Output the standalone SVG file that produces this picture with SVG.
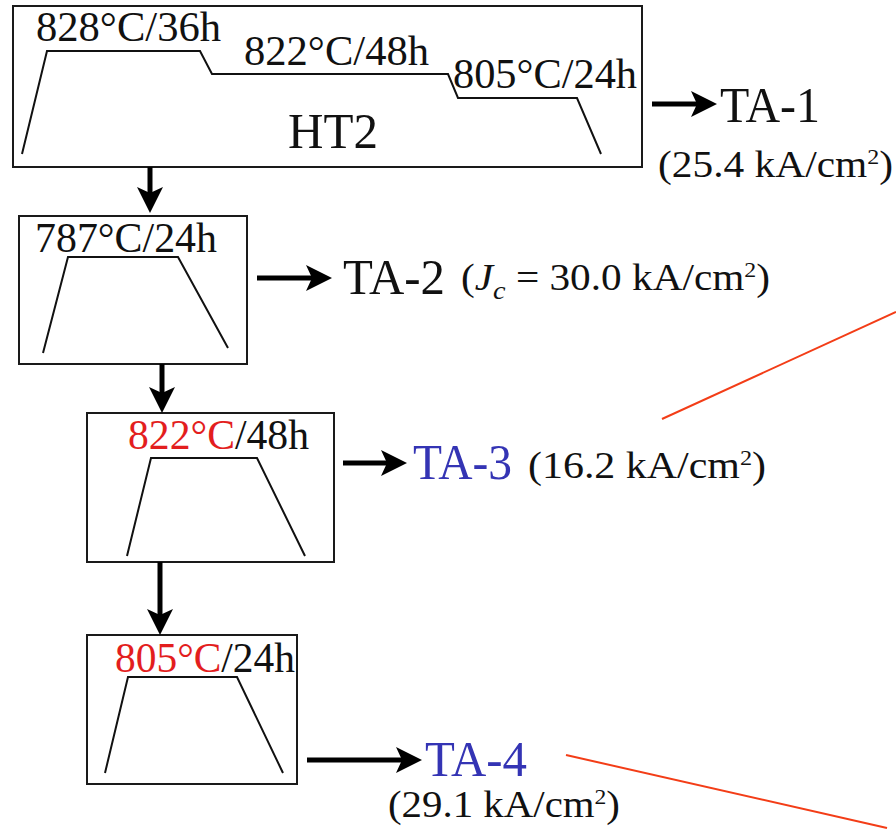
<svg xmlns="http://www.w3.org/2000/svg" width="896" height="829" viewBox="0 0 896 829">
<defs>
<marker id="ah" viewBox="0 0 26 26" refX="6" refY="13" markerWidth="26" markerHeight="26" markerUnits="userSpaceOnUse" orient="auto">
<path d="M0,0 L26,13 L0,26 L6,13 z" fill="#000"/>
</marker>
<style>
.box{fill:#fff;stroke:#1a1a1a;stroke-width:2}
.prof{fill:none;stroke:#111;stroke-width:2}
.t{font-family:"Liberation Serif","Times New Roman",serif;fill:#111}
.arr{stroke:#000;stroke-width:5;fill:none}
.red{fill:#e31e1e}
.blue{fill:#3434b4}
.rl{stroke:#f33d17;stroke-width:2;fill:none}
</style>
</defs>
<rect width="896" height="829" fill="#fff"/>

<g id="ht2">
<rect class="box" x="13" y="6" width="629" height="161"/>
<polyline class="prof" points="22,154 47,51 200,51 212,74 448,74 458,98 577,98 601,154"/>
<text class="t" x="36" y="41" font-size="42" textLength="185" lengthAdjust="spacingAndGlyphs">828°C/36h</text>
<text class="t" x="244" y="65" font-size="42" textLength="185" lengthAdjust="spacingAndGlyphs">822°C/48h</text>
<text class="t" x="453" y="88" font-size="42" textLength="184" lengthAdjust="spacingAndGlyphs">805°C/24h</text>
<text class="t" x="288" y="148" font-size="50" textLength="90" lengthAdjust="spacingAndGlyphs">HT2</text>
</g>

<g id="ta1">
<text class="t" x="720" y="122" font-size="50" textLength="100" lengthAdjust="spacingAndGlyphs">TA-1</text>
<text class="t" x="658" y="177" font-size="38" textLength="235" lengthAdjust="spacingAndGlyphs">(25.4 kA/cm<tspan font-size="22" dy="-13">2</tspan><tspan dy="13">)</tspan></text>
</g>

<g id="step787">
<rect class="box" x="19" y="216" width="228" height="148"/>
<polyline class="prof" points="43,353 68,257 178,257 228,348"/>
<text class="t" x="35" y="252" font-size="42" textLength="182" lengthAdjust="spacingAndGlyphs">787°C/24h</text>
</g>

<g id="ta2">
<text class="t" x="343" y="294" font-size="50" textLength="102" lengthAdjust="spacingAndGlyphs">TA-2</text>
<text class="t" x="461" y="290" font-size="38" textLength="309" lengthAdjust="spacingAndGlyphs">(<tspan font-style="italic">J</tspan><tspan font-style="italic" font-size="26" dy="9">c</tspan><tspan dy="-9"> = 30.0 kA/cm</tspan><tspan font-size="22" dy="-13">2</tspan><tspan dy="13">)</tspan></text>
</g>

<g id="step822">
<rect class="box" x="87" y="413" width="247" height="149"/>
<polyline class="prof" points="127,556 151,458 257,458 305,556"/>
<text class="t" x="128" y="449" font-size="42" textLength="181" lengthAdjust="spacingAndGlyphs"><tspan class="red">822°C</tspan>/48h</text>
</g>

<g id="ta3">
<text class="t blue" x="413" y="479" font-size="50" textLength="99" lengthAdjust="spacingAndGlyphs">TA-3</text>
<text class="t" x="528" y="478" font-size="38" textLength="238" lengthAdjust="spacingAndGlyphs">(16.2 kA/cm<tspan font-size="22" dy="-13">2</tspan><tspan dy="13">)</tspan></text>
</g>

<g id="step805">
<rect class="box" x="87" y="635" width="210" height="149"/>
<polyline class="prof" points="105,773 128,677 237,677 283,773"/>
<text class="t" x="115" y="672" font-size="42" textLength="180" lengthAdjust="spacingAndGlyphs"><tspan class="red">805°C</tspan>/24h</text>
</g>

<g id="ta4">
<text class="t blue" x="425" y="776" font-size="50" textLength="102" lengthAdjust="spacingAndGlyphs">TA-4</text>
<text class="t" x="388" y="817" font-size="38" textLength="232" lengthAdjust="spacingAndGlyphs">(29.1 kA/cm<tspan font-size="22" dy="-13">2</tspan><tspan dy="13">)</tspan></text>
</g>

<g id="connectors">
<line class="arr" x1="652" y1="104" x2="697" y2="104" marker-end="url(#ah)"/>
<line class="arr" x1="150" y1="167" x2="150" y2="193" marker-end="url(#ah)"/>
<line class="arr" x1="257" y1="278" x2="312" y2="278" marker-end="url(#ah)"/>
<line class="arr" x1="162" y1="364" x2="162" y2="393" marker-end="url(#ah)"/>
<line class="arr" x1="343" y1="463" x2="387" y2="463" marker-end="url(#ah)"/>
<line class="arr" x1="160" y1="562" x2="160" y2="615" marker-end="url(#ah)"/>
<line class="arr" x1="307" y1="760" x2="402" y2="760" marker-end="url(#ah)"/>
<line class="rl" x1="662" y1="419" x2="896" y2="312"/>
<line class="rl" x1="566" y1="755" x2="887" y2="828"/>
</g>
</svg>
